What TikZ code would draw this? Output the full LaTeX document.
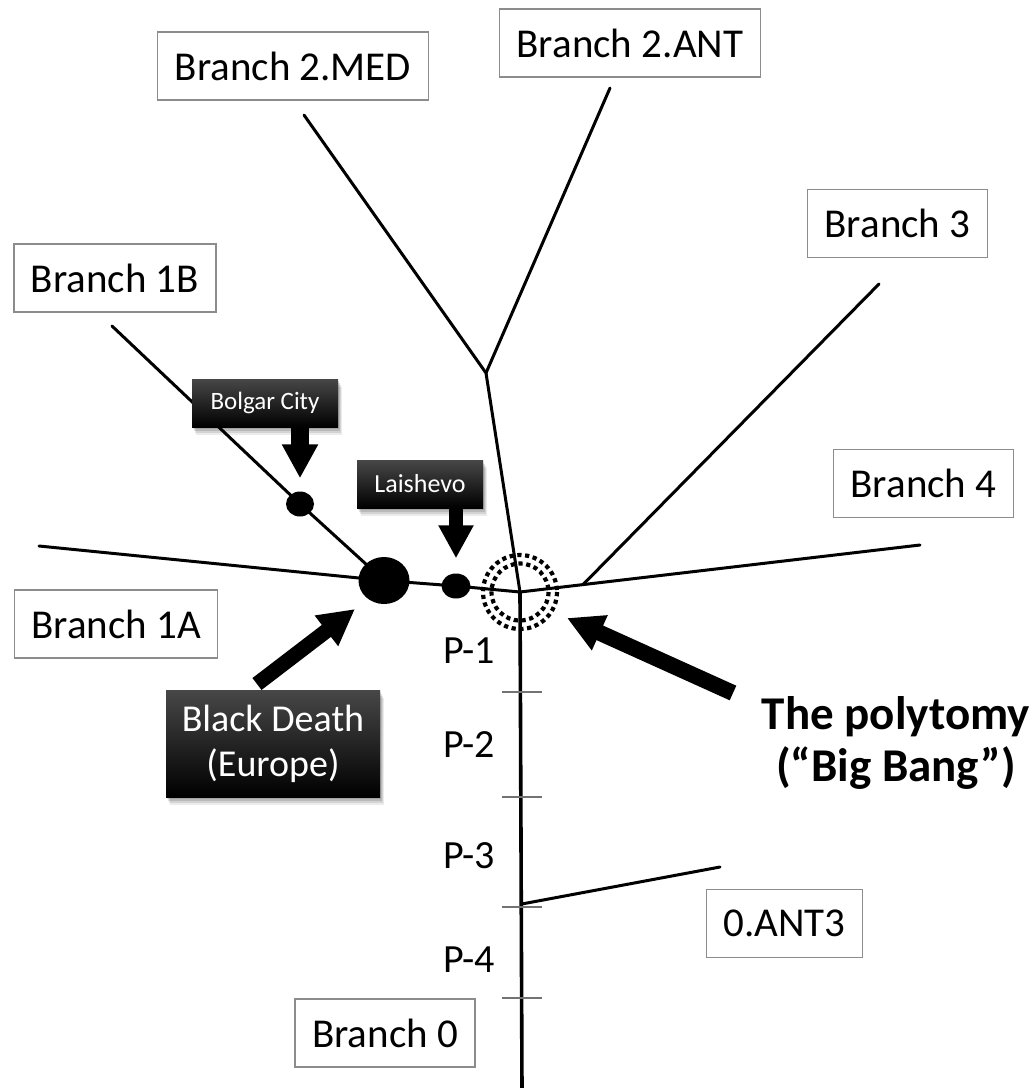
\documentclass[tikz,border=0pt]{standalone}
\usepackage{fontspec}
\setmainfont{Carlito}
\usetikzlibrary{arrows.meta,shadows,shapes.geometric}
\begin{document}
\begin{tikzpicture}[x=1pt,y=-1pt,
  tree/.style={line width=3pt, line cap=round, line join=round},
  trunk/.style={line width=3.6pt},
  tick/.style={line width=1.3pt, draw=black!55},
  labelbox/.style={draw=black!45, line width=1.2pt, fill=white, inner xsep=17pt, inner ysep=0pt,
    minimum height=68pt, font=\fontsize{41}{49}\selectfont},
  plabel/.style={font=\fontsize{40}{48}\selectfont, inner sep=0pt},
  blackbox/.style={top color=black!72, middle color=black, bottom color=black, text=white,
    inner sep=0pt, align=center,
    general shadow={shadow xshift=1pt, shadow yshift=-2pt, fill=black, opacity=0.12},
    general shadow={shadow xshift=2pt, shadow yshift=-4pt, fill=black, opacity=0.12},
    general shadow={shadow xshift=3pt, shadow yshift=-6pt, fill=black, opacity=0.10},
    general shadow={shadow xshift=4pt, shadow yshift=-8pt, fill=black, opacity=0.08}},
  blob/.style={ellipse, fill=black, inner sep=0pt},
  blk/.style={line width=#1, -{Triangle[length=36pt, width=36pt]}},
  dotring/.style={line width=4.2pt, dash pattern=on 4.2pt off 3.6pt},
]
\useasboundingbox (0,0) rectangle (1036,1088);

% coordinates of the tree
\coordinate (C) at (520,592);
\coordinate (F) at (486,373);
\coordinate (e2m) at (304,115);
\coordinate (e2a) at (610,88);
\coordinate (e3) at (879,284);
\coordinate (b3) at (583,584.6);
\coordinate (e4) at (920,545);
\coordinate (e1a) at (39,546);
\coordinate (e1b) at (112,326);
\coordinate (bot) at (522,1090);
\coordinate (a3s) at (521.7,904);
\coordinate (a3e) at (720,867);

% dots
\node[blob, minimum width=51pt, minimum height=47pt] (big) at (384,580.5) {};
\node[blob, minimum width=28pt, minimum height=25pt] (bdot) at (300,504) {};
\node[blob, minimum width=29pt, minimum height=25pt] (ldot) at (456,586) {};

% tree lines
\draw[tree] (e1a) -- (big.center) -- (ldot.center) -- (C);
\draw[tree] (e1b) -- (bdot.center) -- (big.center);
\draw[tree] (C) -- (F) -- (e2m);
\draw[tree] (F) -- (e2a);
\draw[tree] (C) -- (e4);
\draw[tree] (b3) -- (e3);
\draw[tree, trunk] (C) -- (bot);
\draw[tree] (a3s) -- (a3e);

% ticks
\coordinate (t1l) at (502,692); \coordinate (t1r) at (542,692);
\coordinate (t2l) at (502,797); \coordinate (t2r) at (542,797);
\coordinate (t3l) at (502,907); \coordinate (t3r) at (542,907);
\coordinate (t4l) at (502,998); \coordinate (t4r) at (542,998);
\draw[tick] (t1l) -- (t1r);
\draw[tick] (t2l) -- (t2r);
\draw[tick] (t3l) -- (t3r);
\draw[tick] (t4l) -- (t4r);

% polytomy rings
\draw[dotring] (C) circle[radius=37];
\draw[dotring] (C) circle[radius=28.5];

% period labels
\node[plabel] (p1) at (469,651) {P-1};
\node[plabel] (p2) at (469,745) {P-2};
\node[plabel] (p3) at (469,856) {P-3};
\node[plabel] (p4) at (469,960) {P-4};

% branch labels
\node[labelbox] (L2m) at (293,66) {Branch 2.MED};
\node[labelbox] (L2a) at (630,43) {Branch 2.ANT};
\node[labelbox] (L3) at (897.5,223.5) {Branch 3};
\node[labelbox] (L1b) at (115,278) {Branch 1B};
\node[labelbox] (L4) at (923.5,483.5) {Branch 4};
\node[labelbox] (L1a) at (116,624) {Branch 1A};
\node[labelbox] (L0) at (385,1033) {Branch 0};
\node[labelbox] (La3) at (784.5,923.5) {0.ANT3};

% black labels
\node[blackbox, minimum width=146pt, minimum height=48pt, font=\fontsize{25}{30}\selectfont] (bolgar) at (265,403) {Bolgar City};
\node[blackbox, minimum width=126pt, minimum height=48pt, font=\fontsize{26}{31}\selectfont] (laish) at (420,484) {Laishevo};
\node[blackbox, minimum width=214pt, minimum height=107pt, font=\fontsize{38}{45}\selectfont] (bd) at (273,743.5) {Black Death\\(Europe)};

% pointer arrows
\draw[line width=18pt, -{Triangle[length=34pt, width=34pt]}, shorten >=13pt] (bdot |- bolgar.south) -- (bdot.north);
\draw[line width=14pt, -{Triangle[length=33pt, width=33pt]}, shorten >=15pt] (ldot |- laish.south) -- (ldot.north);
\coordinate (bdtail) at (257,684);
\coordinate (bdtip) at (355,609);
\draw[blk=15pt] (bdtail) -- (bdtip);

% polytomy note
\node[font=\bfseries\fontsize{47}{52}\selectfont, align=center, inner sep=0pt] (poly) at (896,743) {The polytomy\\(“Big Bang”)};
\coordinate (ptail) at (733,693);
\coordinate (ptip) at (567,618);
\draw[blk=16pt] (ptail) -- (ptip);
\end{tikzpicture}
\end{document}
